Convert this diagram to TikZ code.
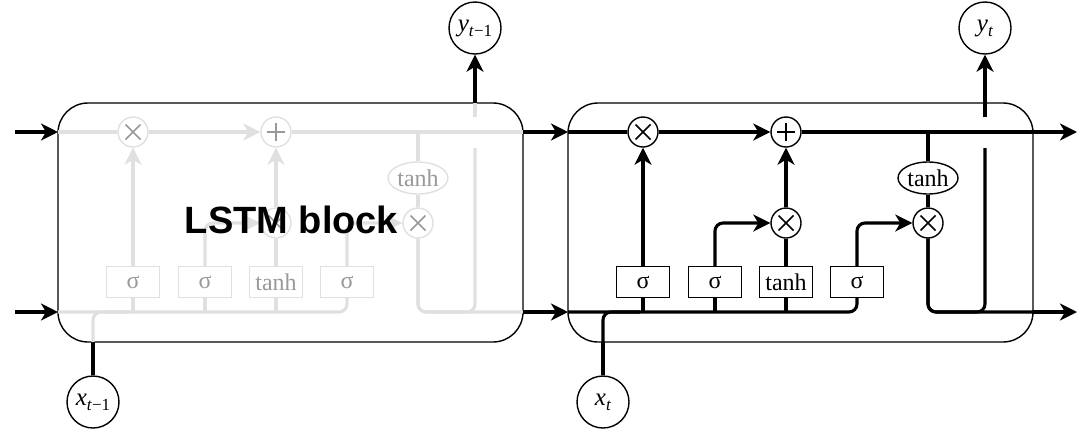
\documentclass[tikz,border=0pt]{standalone}
\usepackage{fontspec}
\setmainfont{Liberation Serif}
\newfontfamily\blocksans{Liberation Sans}
\usetikzlibrary{arrows.meta,shapes.geometric}
\newcommand\iolabel[2]{{\fontsize{25}{25}\selectfont\itshape #1}\raisebox{-5pt}{\fontsize{17}{17}\selectfont #2}}
\tikzset{
  conn/.style={line width=3.1pt},
  tipped/.style={-{Stealth[length=17pt,width=17pt,inset=5pt]}},
  blk/.style={conn,draw=black},
  ln/.style={conn,draw=\lc},
  border/.style={draw=black,line width=1.4pt,rounded corners=30pt},
  opnode/.style={circle,minimum size=30pt,inner sep=0pt,draw=\lc,line width=1.4pt,fill=white},
  timesop/.style={opnode,path picture={
     \draw[line width=1.6pt,draw=\tc]
       ([shift={(-7.5,-7.5)}]path picture bounding box.center) -- ([shift={(7.5,7.5)}]path picture bounding box.center)
       ([shift={(-7.5,7.5)}]path picture bounding box.center) -- ([shift={(7.5,-7.5)}]path picture bounding box.center);}},
  plusop/.style={opnode,path picture={
     \draw[line width=1.6pt,draw=\tc]
       ([shift={(-9,0)}]path picture bounding box.center) -- ([shift={(9,0)}]path picture bounding box.center)
       ([shift={(0,-9)}]path picture bounding box.center) -- ([shift={(0,9)}]path picture bounding box.center);}},
  gate/.style={rectangle,minimum width=53pt,minimum height=31pt,inner sep=0pt,draw=\lc,line width=1.4pt,fill=white,text=\tc,font=\fontsize{24}{24}\selectfont},
  tanhell/.style={ellipse,minimum width=60pt,minimum height=32pt,inner sep=0pt,draw=\lc,line width=1.4pt,fill=white,text=\tc,font=\fontsize{24}{24}\selectfont},
  iocirc/.style={circle,minimum size=52pt,inner sep=0pt,draw=black,line width=1.4pt,fill=white}
}
\begin{document}
\begin{tikzpicture}[x=1pt,y=-1pt]
\useasboundingbox (0,0) rectangle (1092,429);
\foreach \b/\dx/\lc/\tc/\sb in {L/-510/black!12/black!40/{\textit{t}−1},R/0/black/black/{\textit{t}}}{
\begin{scope}[shift={(\dx,0)}]
  \draw[border] (568,103) rectangle (1033,342);
  \coordinate (ia\b) at (568,132);
  \coordinate (oa\b) at (1033,132);
  \coordinate (ib\b) at (568,312);
  \coordinate (ob\b) at (1033,312);
  \coordinate (hb\b) at (985,312);
  \coordinate (hg\b) at (985,148);
  \coordinate (hu\b) at (985,117);
  \coordinate (bt\b) at (985,103);
  \coordinate (xb\b) at (603,342);
  \coordinate (xc\b) at (603,312);
  \coordinate (xe\b) at (640,312);
  \node[timesop] (ma\b) at (643,132) {};
  \node[plusop] (ad\b) at (786,132) {};
  \node[timesop] (mb\b) at (786,223) {};
  \node[timesop] (mc\b) at (928,223) {};
  \node[tanhell] (th\b) at (928,178) {tanh};
  \node[gate] (ga\b) at (643,282) {σ};
  \node[gate] (gb\b) at (715,282) {σ};
  \node[gate] (gc\b) at (786,282) {tanh};
  \node[gate] (gd\b) at (857,282) {σ};
  \node[iocirc] (x\b) at (603,402) {\iolabel{x}{\sb}};
  \node[iocirc] (y\b) at (985,28) {\iolabel{y}{\sb}};
  % cell state
  \draw[ln] (ia\b) -- (ma\b);
  \draw[ln,tipped] (ma\b) -- (ad\b);
  \draw[ln] (ad\b) -- (oa\b);
  % gates
  \draw[ln,tipped] (ga\b) -- (ma\b);
  \draw[ln,tipped,rounded corners=8pt] (gb\b.north) |- (mb\b.west);
  \draw[ln] (gc\b) -- (mb\b);
  \draw[ln,tipped] (mb\b) -- (ad\b);
  \draw[ln,tipped,rounded corners=8pt] (gd\b.north) |- (mc\b.west);
  % output branch
  \draw[ln] (mc\b |- ad\b) -- (th\b);
  \draw[ln] (th\b) -- (mc\b);
  \draw[ln,rounded corners=8pt] (mc\b) |- (ob\b);
  \draw[ln,rounded corners=8pt] (mc\b) |- (hb\b) -- (hg\b);
  \draw[ln] (hu\b) -- (bt\b);
  \draw[blk,tipped] (bt\b) -- (y\b);
  % input bus
  \draw[ln,rounded corners=8pt] (ib\b) -| (gd\b.south);
  \draw[ln] (ga\b.south) -- (ga\b.south |- ib\b);
  \draw[ln] (gb\b.south) -- (gb\b.south |- ib\b);
  \draw[ln] (gc\b.south) -- (gc\b.south |- ib\b);
  \draw[blk] (x\b) -- (xb\b);
  \draw[ln,rounded corners=8pt] (xb\b) -- (xc\b) -- (xe\b);
\end{scope}
}
\coordinate (s1) at (15,132);
\coordinate (s2) at (15,312);
\coordinate (e1) at (1077,132);
\coordinate (e2) at (1077,312);
\draw[blk,tipped] (s1) -- (iaL);
\draw[blk,tipped] (s2) -- (ibL);
\draw[blk,tipped] (oaL) -- (iaR);
\draw[blk,tipped] (obL) -- (ibR);
\draw[blk,tipped] (oaR) -- (e1);
\draw[blk,tipped] (obR) -- (e2);
\node[font=\blocksans\bfseries\fontsize{38}{38}\selectfont,anchor=base,inner sep=0pt] (lbl) at (291.5,233) {LSTM block};
\end{tikzpicture}
\end{document}
